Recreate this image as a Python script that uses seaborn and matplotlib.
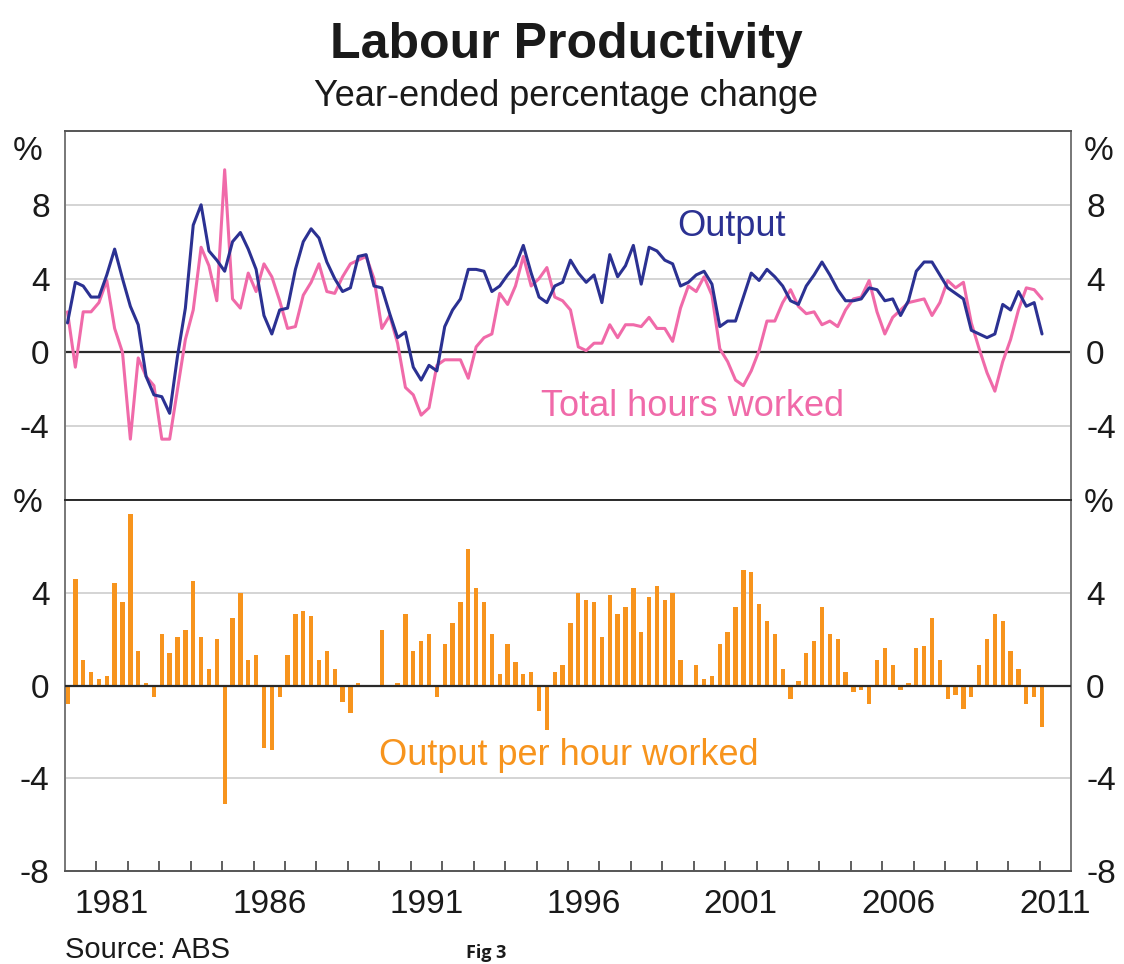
# Labour Productivity - year-ended percentage change (RBA style, two panels)
import numpy as np
import pandas as pd
import matplotlib
matplotlib.use("Agg")
import matplotlib.pyplot as plt
import seaborn as sns

# -------------------------
# Data (quarterly, Mar-1980 to Mar-2011)
# -------------------------
output = [
    1.6, 3.8, 3.6, 3.0,    # 1980
    3.0, 4.2, 5.6, 4.0,    # 1981
    2.5, 1.5, -1.3, -2.3,  # 1982
    -2.4, -3.3, -0.2, 2.4,  # 1983
    6.9, 8.0, 5.5, 5.0,    # 1984
    4.4, 6.0, 6.5, 5.6,    # 1985
    4.5, 2.0, 1.0, 2.3,    # 1986
    2.4, 4.5, 6.0, 6.7,    # 1987
    6.2, 4.9, 4.0, 3.3,    # 1988
    3.5, 5.2, 5.3, 3.6,    # 1989
    3.5, 2.1, 0.8, 1.1,    # 1990
    -0.8, -1.5, -0.7, -1.0,  # 1991
    1.4, 2.3, 2.9, 4.5,    # 1992
    4.5, 4.4, 3.3, 3.6,    # 1993
    4.2, 4.7, 5.8, 4.3,    # 1994
    3.0, 2.7, 3.6, 3.8,    # 1995
    5.0, 4.3, 3.8, 4.2,    # 1996
    2.7, 5.3, 4.1, 4.7,    # 1997
    5.8, 3.7, 5.7, 5.5,    # 1998
    5.0, 4.8, 3.6, 3.8,    # 1999
    4.2, 4.4, 3.7, 1.4,    # 2000
    1.7, 1.7, 3.0, 4.3,    # 2001
    3.9, 4.5, 4.1, 3.6,    # 2002
    2.8, 2.6, 3.6, 4.2,    # 2003
    4.9, 4.2, 3.4, 2.8,    # 2004
    2.8, 2.9, 3.5, 3.4,    # 2005
    2.8, 2.9, 2.0, 2.8,    # 2006
    4.4, 4.9, 4.9, 4.2,    # 2007
    3.5, 3.2, 2.9, 1.2,    # 2008
    1.0, 0.8, 1.0, 2.6,    # 2009
    2.3, 3.3, 2.5, 2.7,    # 2010
    1.0,                   # 2011
]

hours = [
    2.2, -0.8, 2.2, 2.2,   # 1980
    2.7, 3.9, 1.3, 0.0,    # 1981
    -4.7, -0.3, -1.3, -1.8,  # 1982
    -4.7, -4.7, -2.0, 0.7,  # 1983
    2.3, 5.7, 4.7, 2.8,    # 1984
    9.9, 2.9, 2.4, 4.3,    # 1985
    3.3, 4.8, 4.1, 2.8,    # 1986
    1.3, 1.4, 3.1, 3.8,    # 1987
    4.8, 3.3, 3.2, 4.1,    # 1988
    4.8, 5.0, 5.2, 4.0,    # 1989
    1.3, 2.0, 0.5, -1.9,   # 1990
    -2.3, -3.4, -3.0, -0.7,  # 1991
    -0.4, -0.4, -0.4, -1.4,  # 1992
    0.3, 0.8, 1.0, 3.2,    # 1993
    2.6, 3.6, 5.2, 3.6,    # 1994
    4.0, 4.6, 3.0, 2.8,    # 1995
    2.3, 0.3, 0.1, 0.5,    # 1996
    0.5, 1.5, 0.8, 1.5,    # 1997
    1.5, 1.4, 1.9, 1.3,    # 1998
    1.3, 0.6, 2.4, 3.6,    # 1999
    3.3, 4.1, 3.1, 0.2,    # 2000
    -0.5, -1.5, -1.8, -1.0,  # 2001
    0.1, 1.7, 1.7, 2.7,    # 2002
    3.4, 2.5, 2.1, 2.2,    # 2003
    1.5, 1.7, 1.4, 2.3,    # 2004
    2.9, 3.0, 3.9, 2.2,    # 2005
    1.0, 1.9, 2.3, 2.7,    # 2006
    2.8, 2.9, 2.0, 2.7,    # 2007
    3.9, 3.5, 3.8, 1.6,    # 2008
    0.2, -1.1, -2.1, -0.5,  # 2009
    0.7, 2.3, 3.5, 3.4,    # 2010
    2.9,                   # 2011
]

per_hour = [
    -0.8, 4.6, 1.1, 0.6,   # 1980
    0.3, 0.4, 4.4, 3.6,    # 1981
    7.4, 1.5, 0.1, -0.5,   # 1982
    2.2, 1.4, 2.1, 2.4,    # 1983
    4.5, 2.1, 0.7, 2.0,    # 1984
    -5.1, 2.9, 4.0, 1.1,   # 1985
    1.3, -2.7, -2.8, -0.5,  # 1986
    1.3, 3.1, 3.2, 3.0,    # 1987
    1.1, 1.5, 0.7, -0.7,   # 1988
    -1.2, 0.1, 0.0, 0.0,   # 1989
    2.4, 0.0, 0.1, 3.1,    # 1990
    1.5, 1.9, 2.2, -0.5,   # 1991
    1.8, 2.7, 3.6, 5.9,    # 1992
    4.2, 3.6, 2.2, 0.5,    # 1993
    1.8, 1.0, 0.5, 0.6,    # 1994
    -1.1, -1.9, 0.6, 0.9,  # 1995
    2.7, 4.0, 3.7, 3.6,    # 1996
    2.1, 3.9, 3.1, 3.4,    # 1997
    4.2, 2.3, 3.8, 4.3,    # 1998
    3.7, 4.0, 1.1, 0.0,    # 1999
    0.9, 0.3, 0.4, 1.8,    # 2000
    2.3, 3.4, 5.0, 4.9,    # 2001
    3.5, 2.8, 2.2, 0.7,    # 2002
    -0.6, 0.2, 1.4, 1.9,   # 2003
    3.4, 2.2, 2.0, 0.6,    # 2004
    -0.3, -0.2, -0.8, 1.1,  # 2005
    1.6, 0.9, -0.2, 0.1,   # 2006
    1.6, 1.7, 2.9, 1.1,    # 2007
    -0.6, -0.4, -1.0, -0.5,  # 2008
    0.9, 2.0, 3.1, 2.8,    # 2009
    1.5, 0.7, -0.8, -0.5,  # 2010
    -1.8,                  # 2011
]

year_labels = ["1981", "1986", "1991", "1996", "2001", "2006", "2011"]

# quarters -> decimal year (plotted just after the start of each quarter)
quarters = pd.period_range("1980Q1", periods=len(output), freq="Q")
df = pd.DataFrame({
    "year": quarters.year + (quarters.quarter - 1) * 0.25 + 0.08,
    "output": output,
    "hours": hours,
    "per_hour": per_hour,
})

NAVY = "#2b3192"
PINK = "#f06aa9"
ORANGE = "#f7941d"
GRID = "#d4d4d4"
DARK = "#2a2a2a"

sns.set_style("white")
plt.rcParams["font.family"] = ["Liberation Sans", "DejaVu Sans"]
plt.rcParams["axes.unicode_minus"] = False

fig = plt.figure(figsize=(11.24, 9.64), dpi=100)
ax1 = fig.add_axes([0.0578, 0.4813, 0.895, 0.3828])
ax2 = fig.add_axes([0.0578, 0.0965, 0.895, 0.3848])

# -------------------------
# Top panel: output and hours
# -------------------------
for g in [-4, 4, 8]:
    ax1.axhline(g, color=GRID, lw=1.4, zorder=0)
ax1.axhline(0, color=DARK, lw=1.6, zorder=1)

sns.lineplot(data=df, x="year", y="output", color=NAVY, lw=2.2, ax=ax1, zorder=3)
sns.lineplot(data=df, x="year", y="hours", color=PINK, lw=2.2, ax=ax1, zorder=2)

ax1.set_ylim(-8, 12)
ax1.set_yticks([-4, 0, 4, 8])
ax1.set_yticklabels(["-4", "0", "4", "8"])

ax1.text(2001.2, 6.3, "Output", color=NAVY, fontsize=26, ha="center", va="baseline")
ax1.text(1999.96, -3.44, "Total hours worked", color=PINK, fontsize=26,
         ha="center", va="baseline")

# -------------------------
# Bottom panel: output per hour worked
# -------------------------
for g in [-4, 4]:
    ax2.axhline(g, color=GRID, lw=1.4, zorder=0)

sns.barplot(data=df, x="year", y="per_hour", native_scale=True, orient="x",
            color=ORANGE, saturation=1, width=0.55, errorbar=None,
            linewidth=0, ax=ax2, zorder=2)
ax2.axhline(0, color=DARK, lw=1.6, zorder=3)

ax2.set_ylim(-8, 8)
ax2.set_yticks([-8, -4, 0, 4])
ax2.set_yticklabels(["-8", "-4", "0", "4"])

ax2.text(1996.03, -3.43, "Output per hour worked", color=ORANGE, fontsize=26,
         ha="center", va="baseline")

# -------------------------
# Shared axis styling
# -------------------------
for ax in (ax1, ax2):
    ax.set_xlim(1980, 2012)
    ax.set_xlabel("")
    ax.set_ylabel("")
    ax.tick_params(axis="y", length=0, labelsize=24, labelleft=True,
                   labelright=True, pad=11, colors="#1a1a1a")
    for side in ("left", "right"):
        ax.spines[side].set_color("#777777")
        ax.spines[side].set_linewidth(1.4)

ax1.spines["top"].set_color("#555555")
ax1.spines["top"].set_linewidth(1.4)
ax1.spines["bottom"].set_color(DARK)
ax1.spines["bottom"].set_linewidth(1.4)
ax2.spines["top"].set_color(DARK)
ax2.spines["top"].set_linewidth(1.4)
ax2.spines["bottom"].set_color("#555555")
ax2.spines["bottom"].set_linewidth(1.4)

ax1.set_xticks([])

# year boundaries as ticks, labels centred in the year
ax2.set_xticks(np.arange(1981, 2012))
ax2.set_xticklabels([])
ax2.tick_params(axis="x", which="major", direction="in", length=7, width=1.2,
                color="#444444", bottom=True)
ax2.set_xticks([int(y) + 0.5 for y in year_labels], minor=True)
ax2.set_xticklabels(year_labels, minor=True)
ax2.tick_params(axis="x", which="minor", length=0, labelsize=24, pad=13,
                labelcolor="#1a1a1a")

# % unit labels
for ax, yv in ((ax1, 10.9), (ax2, 7.83)):
    tr = ax.get_yaxis_transform()
    ax.text(-0.0368, yv, "%", transform=tr, fontsize=24, ha="center",
            va="center", color="#1a1a1a", clip_on=False)
    ax.text(1.0278, yv, "%", transform=tr, fontsize=24, ha="center",
            va="center", color="#1a1a1a", clip_on=False)

# -------------------------
# Titles and notes
# -------------------------
fig.text(0.5036, 0.9398, "Labour Productivity", fontsize=36, fontweight="bold",
         ha="center", va="baseline", color="#1a1a1a")
fig.text(0.5036, 0.890, "Year-ended percentage change", fontsize=26,
         ha="center", va="baseline", color="#1a1a1a")
fig.text(65 / 1124, 1 - 950 / 964, "Source: ABS", fontsize=21, ha="left",
         va="center", color="#1a1a1a")
fig.text(486 / 1124, 1.5 / 964, "Fig 3", fontsize=13, fontweight="bold",
         ha="center", va="bottom", color="#1a1a1a", family=["Open Sans", "DejaVu Sans"])

fig.savefig("out.png", dpi=100)
